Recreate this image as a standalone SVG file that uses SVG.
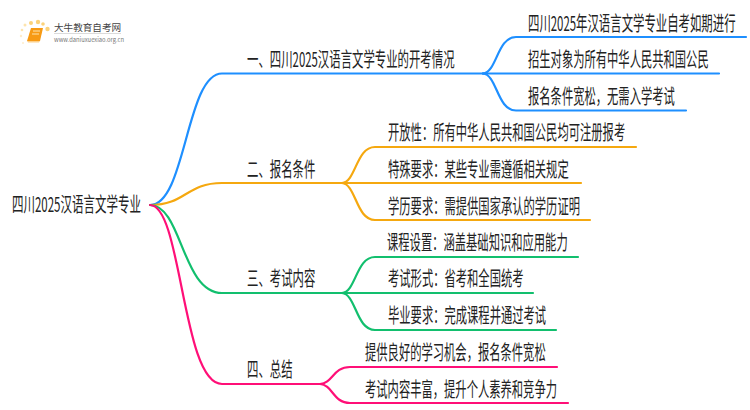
<svg xmlns="http://www.w3.org/2000/svg" width="750" height="410" viewBox="0 0 750 410">
<style>
text{font-family:"Noto Sans CJK SC","Noto Sans",sans-serif;font-size:20px;fill:#222}
.c{fill:none;stroke-width:2.200;stroke-linecap:round}
.b{stroke:#1e8fff}.o{stroke:#f5a80f}.g{stroke:#12bf6e}.p{stroke:#ff0f77}
</style>
<rect width="750" height="410" fill="#fff"/>
<g id="connectors">
<path class="c b" d="M150 205C186 205 186 73.500 222 73.500L483 73.500"/>
<path class="c b" d="M483 73.500C497 72.500 497 37 516 37L746 37"/>
<path class="c b" d="M483 73.500L719 73.500"/>
<path class="c b" d="M483 73.500C497 74.500 497 110.500 516 110.500L686 110.500"/>
<path class="c o" d="M150 205C186 205 186 183 222 183L342 183"/>
<path class="c o" d="M342 183C356 182 356 147 375 147L636 147"/>
<path class="c o" d="M342 183L581 183"/>
<path class="c o" d="M342 183C356 184 356 220 375 220L590 220"/>
<path class="c g" d="M150 205C182 205 182 293 222 293L342 293"/>
<path class="c g" d="M342 293C356 292 356 257 375 257L578 257"/>
<path class="c g" d="M342 293L533 293"/>
<path class="c g" d="M342 293C356 294 356 330 375 330L556 330"/>
<path class="c p" d="M150 205C182 205 182 384 222 384L320 384"/>
<path class="c p" d="M320 384C333 383 333 367 350 367L557 367"/>
<path class="c p" d="M320 384C333 385 333 403 350 403L568 403"/>
</g>
<g id="logo">
<circle cx="47.500" cy="29" r="2.200" fill="#fbd27a"/><circle cx="38" cy="22" r="2.200" fill="#fbd27a"/><circle cx="31" cy="23" r="2" fill="#fbd27a"/><circle cx="43" cy="24" r="1.800" fill="#fbd27a"/><circle cx="25" cy="25" r="1.500" fill="#fde4ae"/><circle cx="22" cy="30" r="1.300" fill="#fde4ae"/><circle cx="21" cy="36" r="1.200" fill="#feeccb"/><circle cx="23" cy="43" r="1" fill="#feeccb"/>
<path d="M31 28H43L40 41H27Z" fill="#f79a14"/><path d="M27 41H40L39 42.500H28Z" fill="#fcd08a"/><path d="M33 31H40M32 34H39" stroke="#fde4ae" stroke-width="1"/>
<text x="54" y="31" style="font-size:9.600px;fill:#444">大牛教育自考网</text>
<path d="M54 33.500H121" stroke="#ccc" stroke-width=".7"/>
<text x="54" y="41.500" style="font-size:5.800px;fill:#777">www.daniuxuexiao.org.cn</text>
</g>
<g id="root"><text transform="translate(12 212) scale(.575 1)">四川2025汉语言文学专业</text></g>
<g id="n1"><text transform="translate(247 67) scale(.57 1)">一、四川2025汉语言文学专业的开考情况</text></g>
<g id="n1a"><text transform="translate(528 30.500) scale(.57 1)">四川2025年汉语言文学专业自考如期进行</text></g>
<g id="n1b"><text transform="translate(528 67) scale(.565 1)">招生对象为所有中华人民共和国公民</text></g>
<g id="n1c"><text transform="translate(528 104) scale(.565 1)">报名条件宽松，无需入学考试</text></g>
<g id="n2"><text transform="translate(247 176.500) scale(.57 1)">二、报名条件</text></g>
<g id="n2a"><text transform="translate(388 140) scale(.565 1)">开放性：所有中华人民共和国公民均可注册报考</text></g>
<g id="n2b"><text transform="translate(388 176.500) scale(.565 1)">特殊要求：某些专业需遵循相关规定</text></g>
<g id="n2c"><text transform="translate(388 213.500) scale(.565 1)">学历要求：需提供国家承认的学历证明</text></g>
<g id="n3"><text transform="translate(247 286) scale(.57 1)">三、考试内容</text></g>
<g id="n3a"><text transform="translate(387 250) scale(.565 1)">课程设置：涵盖基础知识和应用能力</text></g>
<g id="n3b"><text transform="translate(388 286) scale(.565 1)">考试形式：省考和全国统考</text></g>
<g id="n3c"><text transform="translate(388 323) scale(.565 1)">毕业要求：完成课程并通过考试</text></g>
<g id="n4"><text transform="translate(247 377) scale(.57 1)">四、总结</text></g>
<g id="n4a"><text transform="translate(365 360) scale(.565 1)">提供良好的学习机会，报名条件宽松</text></g>
<g id="n4b"><text transform="translate(365 396.500) scale(.565 1)">考试内容丰富，提升个人素养和竞争力</text></g>
</svg>
